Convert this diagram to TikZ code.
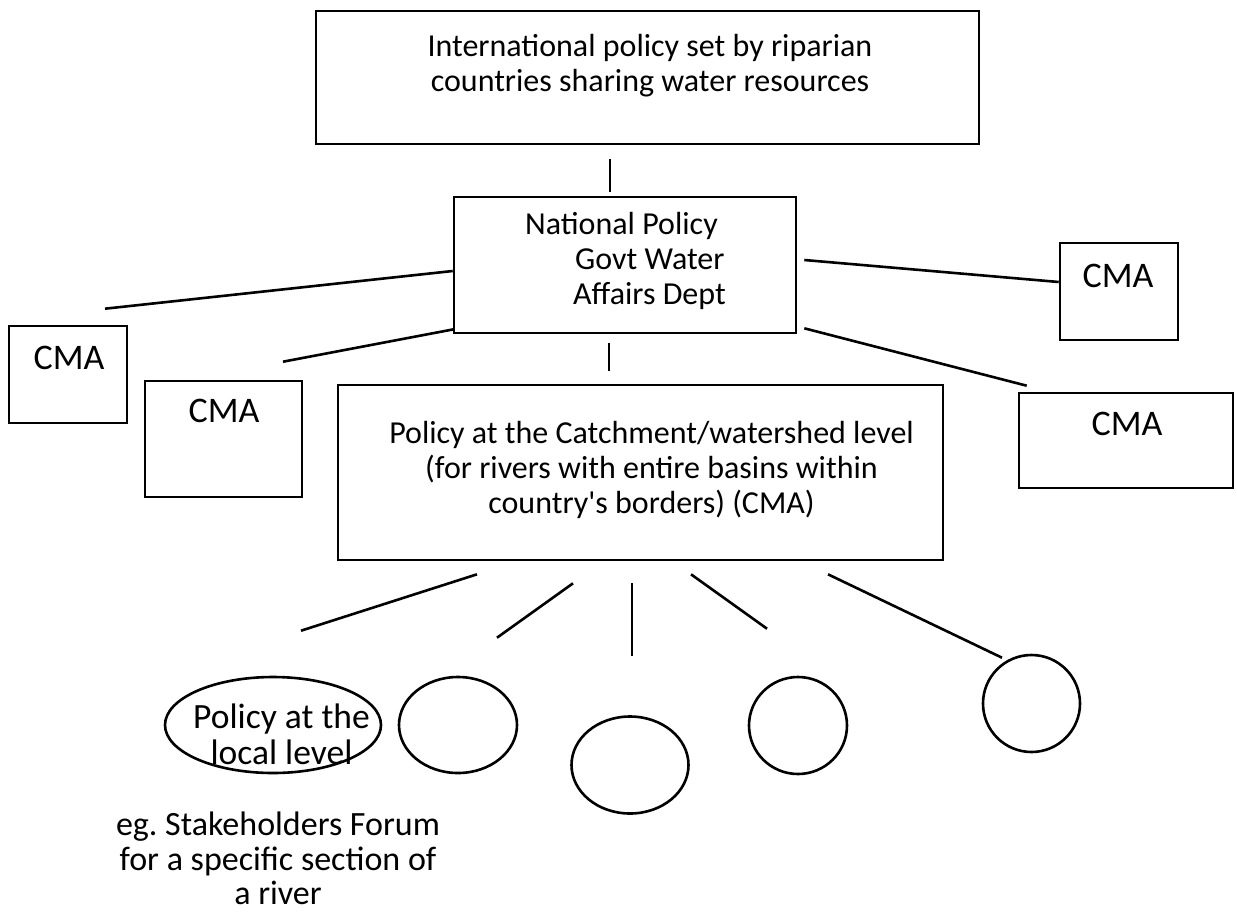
\documentclass[tikz,border=0pt]{standalone}
\usepackage{fontspec}
\setmainfont{Carlito}
\usetikzlibrary{calc,shapes.geometric}
\begin{document}
\begin{tikzpicture}[x=1pt,y=-1pt,
  box/.style={draw,line width=2.6pt,rectangle,inner sep=0pt},
  oval/.style={draw,line width=2.6pt,ellipse,inner sep=0pt},
  conn/.style={line width=2.6pt},
  txt/.style={font=\fontsize{32}{35}\selectfont,inner sep=0pt,align=center},
  cmatxt/.style={font=\fontsize{36}{40}\selectfont,inner sep=0pt}]
\useasboundingbox (0,0) rectangle (1237,916);
% boxes
\node[box,minimum width=663pt,minimum height=133pt] (top) at (647.5,77.5) {};
\node[box,minimum width=342pt,minimum height=136pt] (np) at (625,265) {};
\node[box,minimum width=118pt,minimum height=97pt] (cmaR1) at (1119,291.5) {};
\node[box,minimum width=118pt,minimum height=97pt] (cmaL1) at (68,374.5) {};
\node[box,minimum width=157pt,minimum height=116pt] (cmaL2) at (223.5,439) {};
\node[box,minimum width=605pt,minimum height=175pt] (catch) at (640.5,472.5) {};
\node[box,minimum width=214pt,minimum height=95pt] (cmaR2) at (1126,440.5) {};
% ellipses
\node[oval,minimum width=216pt,minimum height=96pt] (e1) at (273,725) {};
\node[oval,minimum width=118pt,minimum height=96pt] (e2) at (458,725) {};
\node[oval,minimum width=117pt,minimum height=97pt] (e3) at (630,765) {};
\node[oval,minimum width=98pt,minimum height=97pt] (e4) at (798,725.5) {};
\node[oval,minimum width=97pt,minimum height=97pt] (e5) at (1031.5,703.5) {};
% texts
\node[txt] (ttop) at (650,66) {International policy set by riparian\\countries sharing water resources};
\node[txt,align=left,anchor=west] (tnp) at (525,261) {National Policy\\\hspace*{50pt}Govt Water\\\hspace*{48pt}Affairs Dept};
\node[cmatxt] (tR1) at (1118,276) {CMA};
\node[cmatxt] (tL1) at (69,358) {CMA};
\node[cmatxt] (tL2) at (224,411) {CMA};
\node[cmatxt] (tR2) at (1127,424) {CMA};
\node[txt] (tcatch) at (651.5,469.5) {Policy at the Catchment/watershed level\\(for rivers with entire basins within\\country\textquotesingle s borders) (CMA)};
\node[txt,font=\fontsize{35.5}{36}\selectfont] (te1) at (281.5,734) {Policy at the\\local level};
\node[txt,font=\fontsize{34}{34.5}\selectfont,anchor=south] (tnote) at (278,905) {eg.\ Stakeholders Forum\\for a specific section of\\a river};
% connectors
\draw[conn] ($(top.south)+(-37.5,14)$) -- ($(np.north)+(-15,-4)$);
\draw[conn] ($(np.west)+(0,6)$) -- ($(cmaL1.north)+(37,-16)$);
\draw[conn] ($(np.south west)+(1,-5)$) -- ($(cmaL2.north)+(59.5,-18)$);
\draw[conn] ($(np.east)+(7,-5)$) -- ($(cmaR1.west)+(0,-9.5)$);
\draw[conn] ($(np.south east)+(7,-6)$) -- ($(cmaR2.north west)+(9,-6)$);
\draw[conn] ($(np.south)+(-16,9)$) -- ($(catch.north)+(-31.5,-13)$);
\draw[conn] ($(catch.south)+(-163.5,13)$) -- ($(e1.north)+(28,-45)$);
\draw[conn] ($(catch.south)+(-67.5,22)$) -- ($(e2.north)+(39,-38)$);
\draw[conn] ($(catch.south)+(-8.5,22)$) -- ($(e3.north)+(2,-59.5)$);
\draw[conn] ($(catch.south)+(50.5,13)$) -- ($(e4.north)+(-31,-47)$);
\draw[conn] ($(catch.south)+(187.5,13)$) -- ($(e5.north)+(-29.5,4)$);
\end{tikzpicture}
\end{document}
